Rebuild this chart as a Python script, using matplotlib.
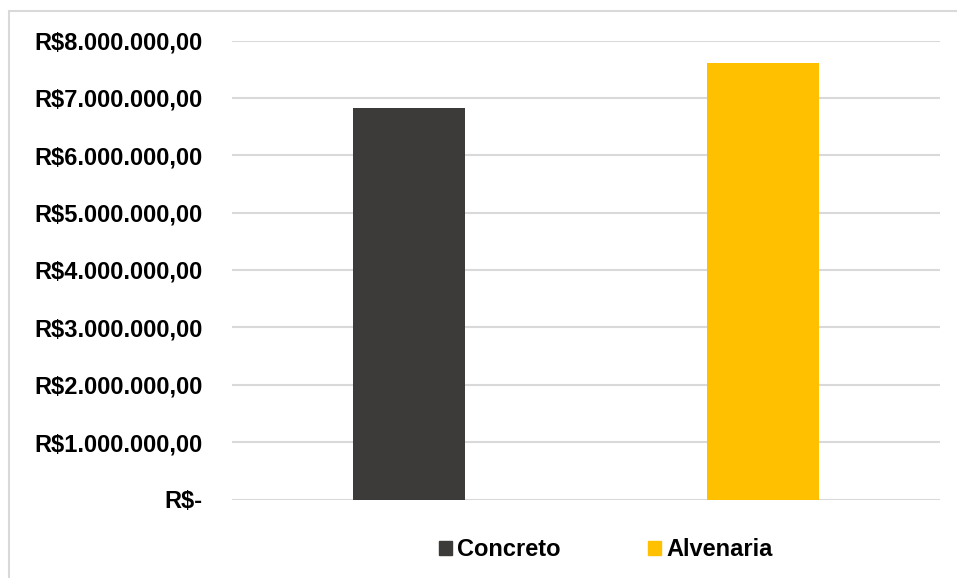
import matplotlib.pyplot as plt
from matplotlib.patches import Patch, Rectangle
from matplotlib.ticker import FuncFormatter

# data
series = ['Concreto', 'Alvenaria']
values = [6830000, 7610000]
colors = ['#3C3B39', '#FFC000']
yticks = [0, 1000000, 2000000, 3000000, 4000000, 5000000, 6000000, 7000000, 8000000]

plt.rcParams['font.family'] = ['Liberation Sans', 'DejaVu Sans']

fig = plt.figure(figsize=(9.57, 5.78), dpi=100)
ax = fig.add_axes([232 / 957, 1 - 499.5 / 578, 708 / 957, (499.5 - 40.5) / 578])

# frame like the Excel chart area (only top/left visible)
fig.patches.append(Rectangle((9 / 957, -0.1), 1.2, 1 - 11 / 578 + 0.1,
                             transform=fig.transFigure, fill=False,
                             edgecolor='#D9D9D9', linewidth=1.5))

for i, (s, v, c) in enumerate(zip(series, values, colors)):
    ax.bar(i, v, width=0.314, color=c, label=s, zorder=3)

ax.set_xlim(-0.5, 1.5)
ax.set_ylim(0, 8000000)
ax.set_yticks(yticks)


def brl(v, pos):
    if v == 0:
        return 'R$-'
    s = f'{v:,.2f}'.replace(',', 'X').replace('.', ',').replace('X', '.')
    return 'R$' + s


ax.yaxis.set_major_formatter(FuncFormatter(brl))
ax.tick_params(axis='y', length=0, pad=21, labelsize=17)
for lab in ax.get_yticklabels():
    lab.set_fontweight('bold')
ax.set_xticks([])
ax.grid(axis='y', color='#D9D9D9', linewidth=1.5, zorder=0)
for sp in ax.spines.values():
    sp.set_visible(False)

handles = [Patch(color=c, label=s) for s, c in zip(series, colors)]
fig.legend(handles=handles, loc='center', bbox_to_anchor=(606 / 957, 1 - 550 / 578),
           ncol=2, frameon=False, prop={'size': 17, 'weight': 'bold'},
           handlelength=0.55, handleheight=0.55, handletextpad=0.22,
           columnspacing=3.7)

fig.savefig('out.png', dpi=100)
